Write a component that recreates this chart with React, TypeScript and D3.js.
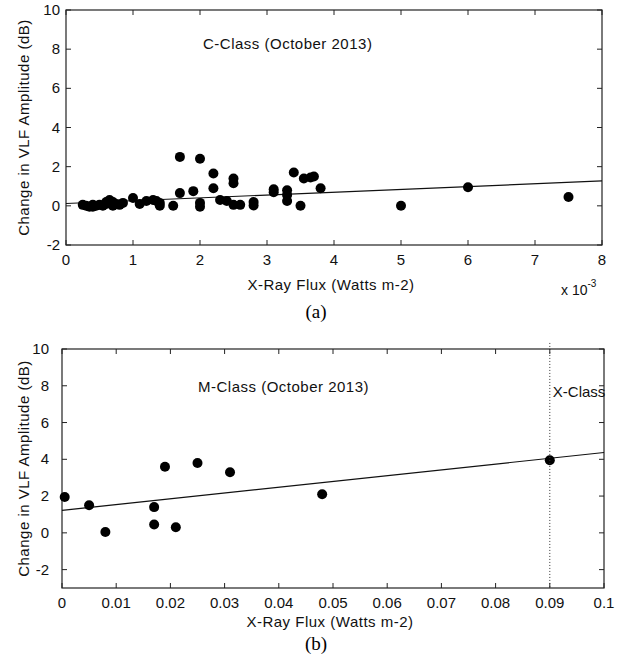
import { useEffect, useRef } from "react";
import * as d3 from "d3";

// (a) C-class flares, flux in units of 1e-3 W m-2
const cFlux = [
  0.25, 0.3, 0.35, 0.4, 0.4, 0.45, 0.5, 0.55, 0.6, 0.6, 0.65, 0.7, 0.7, 0.75, 0.8, 0.85,
  1.0, 1.1, 1.2, 1.3, 1.35, 1.4, 1.4,
  1.6, 1.7, 1.7, 1.9, 2.0, 2.0, 2.0,
  2.2, 2.2, 2.3, 2.4, 2.5, 2.5, 2.5, 2.6, 2.8, 2.8,
  3.1, 3.1, 3.3, 3.3, 3.3, 3.4, 3.5, 3.55, 3.65, 3.7, 3.8,
  5.0, 6.0, 7.5,
];
const cAmp = [
  0.05, 0.0, -0.05, 0.05, -0.05, 0.0, 0.05, 0.0, 0.1, 0.2, 0.3, 0.2, 0.0, 0.1, 0.05, 0.15,
  0.4, 0.1, 0.25, 0.3, 0.25, 0.0, 0.15,
  0.0, 2.5, 0.65, 0.75, 2.4, 0.15, -0.05,
  1.65, 0.9, 0.3, 0.25, 1.4, 1.15, 0.05, 0.05, 0.2, 0.02,
  0.85, 0.7, 0.8, 0.55, 0.25, 1.7, 0.0, 1.4, 1.45, 1.5, 0.9,
  0.0, 0.95, 0.45,
];
const cFitX = [0, 8];
const cFitY = [0.12, 1.27];
const cXTicks = [0, 1, 2, 3, 4, 5, 6, 7, 8];
const cYTicks = [-2, 0, 2, 4, 6, 8, 10];

// (b) M-class flares plus one X-class
const mFlux = [0.0005, 0.005, 0.008, 0.017, 0.017, 0.019, 0.021, 0.025, 0.031, 0.048, 0.09];
const mAmp = [1.95, 1.5, 0.05, 1.4, 0.45, 3.6, 0.3, 3.8, 3.3, 2.1, 3.95];
const mFitX = [0, 0.1];
const mFitY = [1.22, 4.37];
const mXTicks = [0, 0.01, 0.02, 0.03, 0.04, 0.05, 0.06, 0.07, 0.08, 0.09, 0.1];
const mYTicks = [-2, 0, 2, 4, 6, 8, 10];
const xClassFlux = 0.09;

const SANS = "'Liberation Sans', Arial, Helvetica, sans-serif";
const SERIF = "'Liberation Serif', 'Times New Roman', serif";

function drawPanel(svg, cfg) {
  const { left, right, top, bottom, xDomain, yDomain, xTicks, yTicks, xs, ys, fitX, fitY, xFmt, yLabelGap } = cfg;
  const x = d3.scaleLinear().domain(xDomain).range([left, right]);
  const y = d3.scaleLinear().domain(yDomain).range([bottom, top]);
  const g = svg.append("g");
  const tick = 5;

  // ticks on all four sides, pointing inward
  xTicks.forEach((t) => {
    g.append("line").attr("x1", x(t)).attr("x2", x(t)).attr("y1", bottom).attr("y2", bottom - tick).attr("stroke", "#222");
    g.append("line").attr("x1", x(t)).attr("x2", x(t)).attr("y1", top).attr("y2", top + tick).attr("stroke", "#222");
    g.append("text")
      .attr("x", x(t))
      .attr("y", bottom + cfg.xTickDy)
      .attr("text-anchor", "middle")
      .style("font-family", SANS)
      .style("font-size", "15px")
      .attr("fill", "#111")
      .text(xFmt(t));
  });
  yTicks.forEach((t) => {
    g.append("line").attr("x1", left).attr("x2", left + tick).attr("y1", y(t)).attr("y2", y(t)).attr("stroke", "#222");
    g.append("line").attr("x1", right).attr("x2", right - tick).attr("y1", y(t)).attr("y2", y(t)).attr("stroke", "#222");
    g.append("text")
      .attr("x", left - yLabelGap)
      .attr("y", y(t) + 5)
      .attr("text-anchor", "end")
      .style("font-family", SANS)
      .style("font-size", "15px")
      .attr("fill", "#111")
      .text(t);
  });

  g.append("rect")
    .attr("x", left)
    .attr("y", top)
    .attr("width", right - left)
    .attr("height", bottom - top)
    .attr("fill", "none")
    .attr("stroke", "#222")
    .attr("stroke-width", 1.2);

  g.append("line")
    .attr("x1", x(fitX[0]))
    .attr("y1", y(fitY[0]))
    .attr("x2", x(fitX[1]))
    .attr("y2", y(fitY[1]))
    .attr("stroke", "#111")
    .attr("stroke-width", 1.2);

  g.selectAll("circle.pt")
    .data(xs.map((v, i) => [v, ys[i]]))
    .enter()
    .append("circle")
    .attr("class", "pt")
    .attr("cx", (d) => x(d[0]))
    .attr("cy", (d) => y(d[1]))
    .attr("r", 5)
    .attr("fill", "#000");

  // y label
  g.append("text")
    .attr("transform", `translate(29,${(top + bottom) / 2}) rotate(-90)`)
    .attr("text-anchor", "middle")
    .style("font-family", SANS)
    .style("font-size", "15px")
    .style("letter-spacing", "0.5px")
    .attr("fill", "#111")
    .text("Change in VLF Amplitude (dB)");

  g.append("text")
    .attr("x", (left + right) / 2 - 3)
    .attr("y", cfg.xLabelY)
    .attr("text-anchor", "middle")
    .style("font-family", SANS)
    .style("font-size", "15px")
    .style("letter-spacing", "0.5px")
    .attr("fill", "#111")
    .text("X-Ray Flux (Watts m-2)");

  g.append("text")
    .attr("x", 316)
    .attr("y", cfg.captionY)
    .attr("text-anchor", "middle")
    .style("font-family", SERIF)
    .style("font-size", "19px")
    .attr("fill", "#000")
    .text(cfg.caption);

  g.append("text")
    .attr("x", cfg.noteX)
    .attr("y", cfg.noteY)
    .style("font-family", SANS)
    .style("font-size", "15px")
    .style("letter-spacing", "0.5px")
    .attr("fill", "#111")
    .text(cfg.note);

  return { x, y, g };
}

export default function App() {
  const svgRef = useRef(null);

  useEffect(() => {
    const svg = d3.select(svgRef.current);
    svg.selectAll("*").remove();

    svg.append("rect").attr("width", 618).attr("height", 657).attr("fill", "#fff");

    const a = drawPanel(svg, {
      left: 66,
      right: 602,
      top: 10,
      bottom: 245,
      xDomain: [0, 8],
      yDomain: [-2, 10],
      xTicks: cXTicks,
      yTicks: cYTicks,
      xs: cFlux,
      ys: cAmp,
      fitX: cFitX,
      fitY: cFitY,
      xFmt: (d) => String(d),
      yLabelGap: 6,
      xTickDy: 20,
      xLabelY: 290,
      caption: "(a)",
      captionY: 318,
      note: "C-Class (October 2013)",
      noteX: 203,
      noteY: 49,
    });

    // exponent note
    const ex = a.g.append("text").attr("x", 561).attr("y", 295).style("font-family", SANS).style("font-size", "14px").attr("fill", "#111");
    ex.append("tspan").text("x 10");
    ex.append("tspan").attr("dy", -8).style("font-size", "10px").text("-3");

    const b = drawPanel(svg, {
      left: 62,
      right: 604,
      top: 349,
      bottom: 588,
      xDomain: [0, 0.1],
      yDomain: [-3, 10],
      xTicks: mXTicks,
      yTicks: mYTicks,
      xs: mFlux,
      ys: mAmp,
      fitX: mFitX,
      fitY: mFitY,
      xFmt: (d) => String(+d.toFixed(2)),
      yLabelGap: 13,
      xTickDy: 20,
      xLabelY: 627,
      caption: "(b)",
      captionY: 650,
      note: "M-Class (October 2013)",
      noteX: 198,
      noteY: 392,
    });

    b.g.append("line")
      .attr("x1", b.x(xClassFlux))
      .attr("x2", b.x(xClassFlux))
      .attr("y1", b.y(10.33))
      .attr("y2", b.y(-3))
      .attr("stroke", "#333")
      .attr("stroke-dasharray", "1,2");

    b.g.append("text")
      .attr("x", b.x(xClassFlux) + 3)
      .attr("y", 397)
      .style("font-family", SANS)
      .style("font-size", "15px")
      .attr("fill", "#111")
      .text("X-Class");
  }, []);

  return (
    <svg
      ref={svgRef}
      width={618}
      height={657}
      style={{ position: "absolute", left: 0, top: 0, display: "block" }}
    />
  );
}
